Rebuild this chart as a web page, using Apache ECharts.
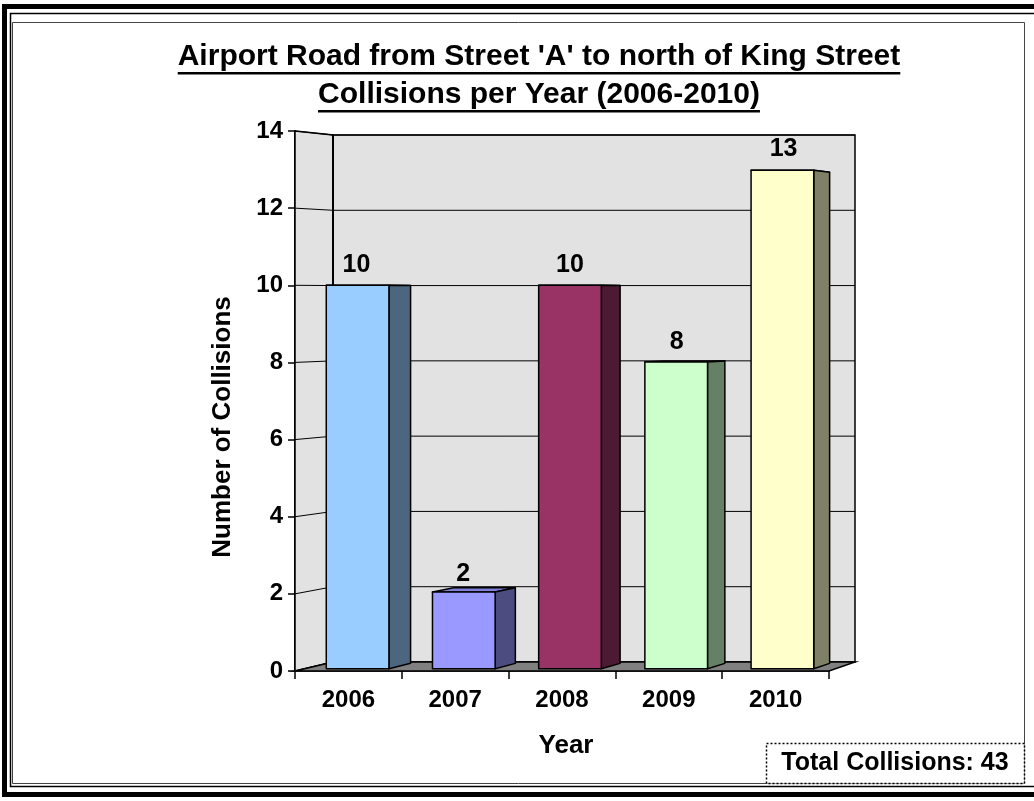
<!DOCTYPE html>
<html><head><meta charset="utf-8">
<script src="https://cdn.jsdelivr.net/npm/echarts@6/dist/echarts.min.js"></script>
<style>html,body{margin:0;padding:0;background:#fff}#c{width:1034px;height:801px}</style>
</head><body><div id="c"></div>
<script>
const categories = ['2006', '2007', '2008', '2009', '2010'];
const collisions = [10, 2, 10, 8, 13];
const yTicks = [0, 2, 4, 6, 8, 10, 12, 14];
const frontColors = ['#99CCFF', '#9999FF', '#993366', '#CCFFCC', '#FFFFCC'];
const sideColors = ['#4D6680', '#4C4C80', '#4D1A33', '#668066', '#808066'];
const topColors = ['#7FA9D4', '#8080D9', '#7A2952', '#A8D4A8', '#D4D4A8'];
const titleLines = ["Airport Road from Street 'A' to north of King Street", 'Collisions per Year (2006-2010)'];
const yAxisTitle = 'Number of Collisions';
const xAxisTitle = 'Year';
const totalLabel = 'Total Collisions: ';

const FONT = '"Liberation Sans", Arial, sans-serif';
const total = collisions.reduce((a, b) => a + b, 0);

function makeProj(cs) {
  const gx = cs.x, gy = cs.y, gw = cs.width, gh = cs.height;
  const BL = gx + 38, BR = gx + gw + 26, BT = gy + 4, BB = gy + gh - 9;
  return function (x, y, d) {
    const bx = BL + (x - gx) * (BR - BL) / gw;
    const by = BT + (y - gy) * (BB - BT) / gh;
    return [x + d * (bx - x), y + d * (by - y)];
  };
}

function measure(text, font) {
  const c = document.createElement('canvas').getContext('2d');
  c.font = font;
  return c.measureText(text).width;
}

const chart = echarts.init(document.getElementById('c'), null, { renderer: 'canvas' });

const yMax = yTicks[yTicks.length - 1];

function renderWalls(params, api) {
  const cs = params.coordSys;
  const P = makeProj(cs);
  const gx = cs.x, gw = cs.width;
  const y0 = api.coord([0, 0])[1];
  const yT = api.coord([0, yMax])[1];
  const children = [];
  children.push({ type: 'polygon', shape: { points: [P(gx, yT, 1), P(gx + gw, yT, 1), P(gx + gw, y0, 1), P(gx, y0, 1)] },
    style: { fill: '#E2E2E2', stroke: '#000', lineWidth: 1.5 } });
  children.push({ type: 'polygon', shape: { points: [[gx, yT], P(gx, yT, 1), P(gx, y0, 1), [gx, y0]] },
    style: { fill: '#E2E2E2', stroke: '#000', lineWidth: 1.5 } });
  yTicks.forEach(v => {
    const y = api.coord([0, v])[1];
    children.push({ type: 'polyline', shape: { points: [[gx, y], P(gx, y, 1), P(gx + gw, y, 1)] },
      style: { fill: null, stroke: '#000', lineWidth: 1 } });
  });
  children.push({ type: 'polyline', shape: { points: [P(gx, yT, 1), P(gx, y0, 1)] },
    style: { fill: null, stroke: '#000', lineWidth: 2 } });
  children.push({ type: 'polygon', shape: { points: [[gx, y0], [gx + gw, y0], P(gx + gw, y0, 1), P(gx, y0, 1)] },
    style: { fill: '#808080', stroke: '#000', lineWidth: 1.5 } });
  return { type: 'group', children };
}

function renderBar(params, api) {
  const i = api.value(0), v = api.value(1);
  const cs = params.coordSys;
  const P = makeProj(cs);
  const top = api.coord([i, v]), base = api.coord([i, 0]);
  const bw = api.size([1, 0])[0] * 0.59;
  const x0 = top[0] - bw / 2, x1 = top[0] + bw / 2, yT = top[1], yB = base[1];
  const d0 = 0.25, d1 = 0.85;
  const st = { stroke: '#000', lineWidth: 1.5, lineJoin: 'round' };
  return {
    type: 'group',
    children: [
      { type: 'polygon', shape: { points: [P(x0, yT, d0), P(x1, yT, d0), P(x1, yT, d1), P(x0, yT, d1)] },
        style: Object.assign({ fill: topColors[i] }, st) },
      { type: 'polygon', shape: { points: [P(x1, yT, d0), P(x1, yT, d1), P(x1, yB, d1), P(x1, yB, d0)] },
        style: Object.assign({ fill: sideColors[i] }, st) },
      { type: 'polygon', shape: { points: [P(x0, yT, d0), P(x1, yT, d0), P(x1, yB, d0), P(x0, yB, d0)] },
        style: Object.assign({ fill: frontColors[i] }, st) },
      { type: 'text', x: top[0] + 8, y: yT - 20,
        style: { text: String(v), font: 'bold 25px ' + FONT, fill: '#000', align: 'center', verticalAlign: 'middle' } }
    ]
  };
}

const t1Font = 'bold 30px ' + FONT;
const w1 = measure(titleLines[0], t1Font), w2 = measure(titleLines[1], t1Font);
const tcx = 539;

chart.setOption({
  animation: false,
  backgroundColor: '#fff',
  grid: { left: 295, top: 131, width: 534, height: 540, containLabel: false },
  xAxis: {
    type: 'category', data: categories,
    axisLine: { show: true, lineStyle: { color: '#000', width: 1.5 } },
    axisTick: { show: true, length: 8, lineStyle: { color: '#000', width: 1.5 } },
    axisLabel: { margin: 17, color: '#000', fontSize: 24, fontWeight: 'bold', fontFamily: FONT },
    name: xAxisTitle, nameLocation: 'middle', nameGap: 62,
    nameTextStyle: { color: '#000', fontSize: 26, fontWeight: 'bold', fontFamily: FONT, padding: [0, 0, 0, 8] },
    splitLine: { show: false }
  },
  yAxis: {
    type: 'value', min: 0, max: yMax, interval: 2,
    axisLine: { show: true, lineStyle: { color: '#000', width: 2 } },
    axisTick: { show: true, length: 7, lineStyle: { color: '#000', width: 1.5 } },
    axisLabel: { margin: 12, color: '#000', fontSize: 24, fontWeight: 'bold', fontFamily: FONT },
    splitLine: { show: false }
  },
  series: [
    { type: 'custom', silent: true, clip: false, z: 1, data: [[0, 0]], renderItem: renderWalls },
    { type: 'custom', silent: true, clip: false, z: 3, data: collisions.map((v, i) => [i, v]), renderItem: renderBar }
  ],
  graphic: [
    { type: 'rect', silent: true, shape: { x: 4.5, y: 6.5, width: 1060, height: 788 }, style: { fill: null, stroke: '#000', lineWidth: 5 } },
    { type: 'rect', silent: true, shape: { x: 10.5, y: 13.5, width: 1060, height: 773 }, style: { fill: null, stroke: '#000', lineWidth: 1.5 } },
    { type: 'rect', silent: true, shape: { x: 12.5, y: 22.5, width: 1012, height: 761 }, style: { fill: null, stroke: '#444', lineWidth: 1 } },
    { type: 'text', silent: true, x: tcx, y: 57, style: { text: titleLines[0], font: t1Font, fill: '#000', align: 'center', verticalAlign: 'middle' } },
    { type: 'rect', silent: true, shape: { x: tcx - w1 / 2, y: 72, width: w1, height: 2.5 }, style: { fill: '#000' } },
    { type: 'text', silent: true, x: tcx, y: 95, style: { text: titleLines[1], font: t1Font, fill: '#000', align: 'center', verticalAlign: 'middle' } },
    { type: 'rect', silent: true, shape: { x: tcx - w2 / 2, y: 110, width: w2, height: 2.5 }, style: { fill: '#000' } },
    { type: 'text', silent: true, x: 223, y: 427, rotation: Math.PI / 2,
      style: { text: yAxisTitle, font: 'bold 26px ' + FONT, fill: '#000', align: 'center', verticalAlign: 'middle' } },
    { type: 'rect', silent: true, shape: { x: 766.5, y: 743.5, width: 258, height: 40 }, style: { fill: '#fff', stroke: '#000', lineWidth: 1.5, lineDash: [2, 2] } },
    { type: 'text', silent: true, x: 895, y: 763, style: { text: totalLabel + total, font: 'bold 25px ' + FONT, fill: '#000', align: 'center', verticalAlign: 'middle' } }
  ]
});
</script></body></html>
